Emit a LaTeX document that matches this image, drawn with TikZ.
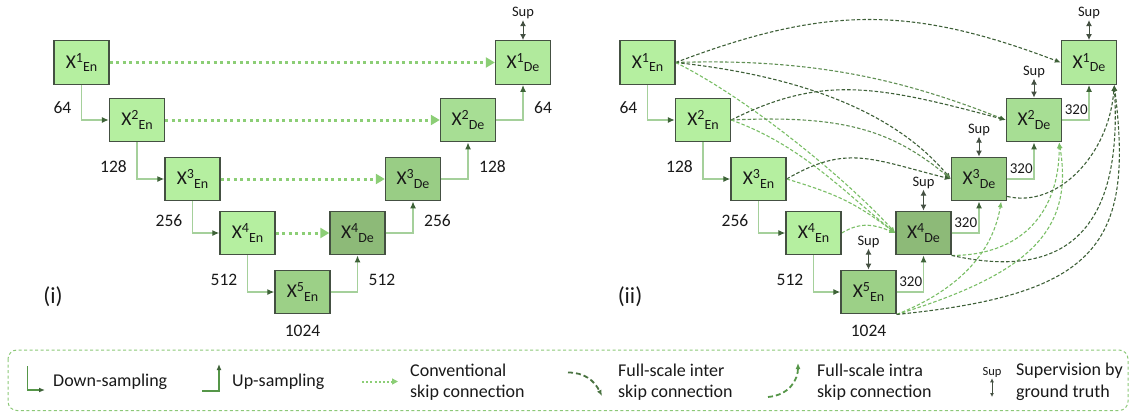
\documentclass[tikz,border=0pt]{standalone}
\usepackage{fontspec}
\setmainfont{Carlito}
\usetikzlibrary{arrows.meta,calc}
\pgfdeclarelayer{background}
\pgfsetlayers{background,main}

\definecolor{encF}{RGB}{181,239,160}
\definecolor{botF}{RGB}{156,208,135}
\definecolor{dfourF}{RGB}{141,186,120}
\definecolor{dthreeF}{RGB}{153,205,133}
\definecolor{dtwoF}{RGB}{167,222,148}
\definecolor{doneF}{RGB}{177,234,157}
\definecolor{bord}{RGB}{68,80,66}
\definecolor{txt}{RGB}{25,25,25}
\definecolor{sampL}{RGB}{165,208,155}
\definecolor{tipD}{RGB}{62,98,56}
\definecolor{dotG}{RGB}{140,206,118}
\definecolor{darkD}{RGB}{62,96,56}
\definecolor{midD}{RGB}{98,145,86}
\definecolor{lightD}{RGB}{122,190,102}
\definecolor{legG}{RGB}{140,200,120}
\definecolor{legLine}{RGB}{85,150,72}

% block caption: X with superscript level and subscript stage
\newcommand{\blockname}[2]{{\fontsize{19.5}{19}\selectfont X}{\fontsize{14}{14}\selectfont\raisebox{6pt}{#1}\raisebox{-3.5pt}{#2}}}

\tikzset{
  box/.style={draw=bord, line width=1.4pt, minimum width=55pt, minimum height=43.5pt, inner sep=0pt, text=txt},
  num/.style={text=txt, inner sep=0pt, font=\fontsize{17.5}{18}\selectfont},
  small/.style={text=txt, inner sep=0pt, font=\fontsize{15}{15}\selectfont},
  suplbl/.style={text=txt, inner sep=1pt, font=\fontsize{14.5}{14}\selectfont},
  panel/.style={text=txt, inner sep=0pt, font=\fontsize{23}{23}\selectfont},
  legt/.style={text=txt, inner sep=0pt, anchor=west, align=left, font=\fontsize{18}{21.5}\selectfont},
  samp/.style={draw=sampL, line width=1.2pt, -{Latex[length=7pt,width=6pt,color=tipD]}},
  supar/.style={draw=bord, line width=1pt, {Latex[length=6pt,width=6pt]}-{Latex[length=6pt,width=6pt]}},
  conv/.style={draw=dotG, line width=3pt, dash pattern=on 3pt off 3.5pt, -{Triangle[length=9pt,width=10pt,color=dotG]}},
  dk/.style={draw=darkD, line width=1.1pt, dash pattern=on 3.5pt off 2pt, -{Latex[length=6pt,width=5pt]}},
  md/.style={dk, draw=midD},
  lt/.style={dk, draw=lightD},
  legbox/.style={draw=legG, line width=1pt, dash pattern=on 3pt off 2.5pt, rounded corners=9pt},
  legsamp/.style={draw=legLine, line width=1.3pt, -{Latex[length=6pt,width=5pt,color=tipD]}},
  convL/.style={draw=dotG, line width=2pt, dash pattern=on 2pt off 2.2pt, -{Triangle[length=6pt,width=6pt,color=dotG]}},
  legdash/.style={draw=darkD!80!lightD, line width=1.8pt, dash pattern=on 5pt off 3pt, -{Latex[length=6pt,width=5pt]}},
  legdashb/.style={legdash, draw=legLine},
}

\begin{document}
\begin{tikzpicture}[x=1pt,y=-1pt]
\useasboundingbox (0,0) rectangle (1136,412);

% ---------------- (i) U-Net ----------------
\node[box, fill=encF]   (Ea1) at (81.5,62.5) {\blockname{1}{En}};
\node[box, fill=encF]   (Ea2) at (137,120)   {\blockname{2}{En}};
\node[box, fill=encF]   (Ea3) at (192.5,179) {\blockname{3}{En}};
\node[box, fill=encF]   (Ea4) at (247.5,233) {\blockname{4}{En}};
\node[box, fill=botF]   (Ea5) at (302.5,292) {\blockname{5}{En}};
\node[box, fill=dfourF] (Da4) at (357.5,233) {\blockname{4}{De}};
\node[box, fill=dthreeF](Da3) at (413,179)   {\blockname{3}{De}};
\node[box, fill=dtwoF]  (Da2) at (468,120)   {\blockname{2}{De}};
\node[box, fill=doneF]  (Da1) at (523,62.5)  {\blockname{1}{De}};

\draw[samp] (Ea1.south) |- (Ea2.west);
\draw[samp] (Ea2.south) |- (Ea3.west);
\draw[samp] (Ea3.south) |- (Ea4.west);
\draw[samp] (Ea4.south) |- (Ea5.west);
\draw[samp] (Ea5.east) -| (Da4.south);
\draw[samp] (Da4.east) -| (Da3.south);
\draw[samp] (Da3.east) -| (Da2.south);
\draw[samp] (Da2.east) -| (Da1.south);

\node[num, anchor=east] (la64)  at ($(Ea1.south |- Ea2.west)+(-10,-12)$) {64};
\node[num, anchor=east] (la128) at ($(Ea2.south |- Ea3.west)+(-10,-12)$) {128};
\node[num, anchor=east] (la256) at ($(Ea3.south |- Ea4.west)+(-10,-12)$) {256};
\node[num, anchor=east] (la512) at ($(Ea4.south |- Ea5.west)+(-10,-12)$) {512};
\node[num] (la1024) at ($(Ea5.south)+(0,16)$) {1024};
\node[num, anchor=west] (ra512) at ($(Ea5.east -| Da4.south)+(11,-12)$) {512};
\node[num, anchor=west] (ra256) at ($(Da4.east -| Da3.south)+(11,-12)$) {256};
\node[num, anchor=west] (ra128) at ($(Da3.east -| Da2.south)+(11,-12)$) {128};
\node[num, anchor=west] (ra64)  at ($(Da2.east -| Da1.south)+(11,-12)$) {64};

\draw[conv] (Ea1.east) -- (Da1.west);
\draw[conv] (Ea2.east) -- (Da2.west);
\draw[conv] (Ea3.east) -- (Da3.west);
\draw[conv] (Ea4.east) -- (Da4.west);

\node[suplbl] (sa1) at ($(Da1.north)+(0,-27)$) {Sup};
\draw[supar] (sa1) -- (Da1);

\node[panel] (pi) at (53,297) {(i)};

% ---------------- (ii) UNet 3+ ----------------
\node[box, fill=encF]   (Eb1) at (647.5,62.5) {\blockname{1}{En}};
\node[box, fill=encF]   (Eb2) at (703,120)    {\blockname{2}{En}};
\node[box, fill=encF]   (Eb3) at (758.5,179)  {\blockname{3}{En}};
\node[box, fill=encF]   (Eb4) at (813.5,233)  {\blockname{4}{En}};
\node[box, fill=botF]   (Eb5) at (868.5,292)  {\blockname{5}{En}};
\node[box, fill=dfourF] (Db4) at (923.5,233)  {\blockname{4}{De}};
\node[box, fill=dthreeF](Db3) at (979,179)    {\blockname{3}{De}};
\node[box, fill=dtwoF]  (Db2) at (1034,120)   {\blockname{2}{De}};
\node[box, fill=doneF]  (Db1) at (1089,62.5)  {\blockname{1}{De}};

\coordinate (Db3in)  at ($(Db3.south east)+(-6,0)$);
\coordinate (Db2in)  at ($(Db2.south east)+(-3,0)$);
\coordinate (Db1in)  at ($(Db1.south east)+(-3,0)$);
\coordinate (Db3out) at ($(Db3.south east)+(0,-5)$);

\begin{pgfonlayer}{background}
% full-scale inter skip connections
\draw[dk] (Eb1.east) .. controls +(150,-57) and +(-150,-57) .. (Db1.west);
\draw[md] (Eb1.east) .. controls +(150,-5) and +(-90,-35) .. (Db2.west);
\draw[dk] (Eb1.east) .. controls +(140,15) and +(-50,-60) .. (Db3.west);
\draw[lt] (Eb1.east) .. controls +(80,40) and +(-40,-45) .. (Db4.west);
\draw[dk] (Eb2.east) .. controls +(90,-45) and +(-130,-35) .. (Db2.west);
\draw[md] (Eb2.east) .. controls +(110,-5) and +(-60,-50) .. (Db3.west);
\draw[lt] (Eb2.east) .. controls +(70,25) and +(-50,-40) .. (Db4.west);
\draw[dk] (Eb3.east) .. controls +(60,-35) and +(-80,-20) .. (Db3.west);
\draw[lt] (Eb3.east) .. controls +(50,15) and +(-40,-30) .. (Db4.west);
\draw[lt] (Eb4.east) .. controls +(20,-12) and +(-20,-8) .. (Db4.west);
% full-scale intra skip connections
\draw[lt] (Eb5.south east) .. controls +(50,-20) and +(-10,60) .. (Db3in);
\draw[lt] (Eb5.south east) .. controls +(130,-40) and +(15,90) .. (Db2in);
\draw[dk] (Eb5.south east) .. controls +(200,-20) and +(20,160) .. (Db1in);
\draw[lt] (Db4.south east) .. controls +(70,0) and +(0,70) .. (Db2in);
\draw[dk] (Db4.south east) .. controls +(90,20) and +(10,170) .. (Db1in);
\draw[dk] (Db3out) .. controls +(50,12) and +(-5,70) .. (Db1in);
\end{pgfonlayer}

\draw[samp] (Eb1.south) |- (Eb2.west);
\draw[samp] (Eb2.south) |- (Eb3.west);
\draw[samp] (Eb3.south) |- (Eb4.west);
\draw[samp] (Eb4.south) |- (Eb5.west);
\draw[samp] (Eb5.east) -| (Db4.south);
\draw[samp] (Db4.east) -| (Db3.south);
\draw[samp] (Db3.east) -| (Db2.south);
\draw[samp] (Db2.east) -| (Db1.south);

\node[num, anchor=east] (lb64)  at ($(Eb1.south |- Eb2.west)+(-10,-12)$) {64};
\node[num, anchor=east] (lb128) at ($(Eb2.south |- Eb3.west)+(-10,-12)$) {128};
\node[num, anchor=east] (lb256) at ($(Eb3.south |- Eb4.west)+(-10,-12)$) {256};
\node[num, anchor=east] (lb512) at ($(Eb4.south |- Eb5.west)+(-10,-12)$) {512};
\node[num] (lb1024) at ($(Eb5.south)+(0,16)$) {1024};
\node[small] (cb5) at ($(Eb5.east)+(14,-10)$) {320};
\node[small] (cb4) at ($(Db4.east)+(14,-10)$) {320};
\node[small] (cb3) at ($(Db3.east)+(14,-10)$) {320};
\node[small] (cb2) at ($(Db2.east)+(14,-10)$) {320};

\node[suplbl] (sb5) at ($(Eb5.north)+(0,-28)$) {Sup};
\node[suplbl] (sb4) at ($(Db4.north)+(0,-28)$) {Sup};
\node[suplbl] (sb3) at ($(Db3.north)+(0,-27)$) {Sup};
\node[suplbl] (sb2) at ($(Db2.north)+(0,-26)$) {Sup};
\node[suplbl] (sb1) at ($(Db1.north)+(0,-27)$) {Sup};
\draw[supar] (sb5) -- (Eb5);
\draw[supar] (sb4) -- (Db4);
\draw[supar] (sb3) -- (Db3);
\draw[supar] (sb2) -- (Db2);
\draw[supar] (sb1) -- (Db1);

\node[panel] (pii) at (630,297) {(ii)};

% ---------------- legend ----------------
\draw[legbox] (8,350) rectangle (1128,410.5);

\coordinate (ldA) at (27.5,366);
\coordinate (ldB) at (45,390);
\draw[legsamp] (ldA) |- (ldB);
\node[legt] (tDown) at (53,381.5) {Down-sampling};

\coordinate (luA) at (202,391);
\coordinate (luB) at (219,364);
\draw[legsamp] (luA) -| (luB);
\node[legt] (tUp) at (232,381.5) {Up-sampling};

\coordinate (lcA) at (362,381.5);
\coordinate (lcB) at (398,381.5);
\draw[convL] (lcA) -- (lcB);
\node[legt] (tConv) at (410,382) {Conventional\\skip connection};

\coordinate (liA) at (568,372.5);
\coordinate (liB) at (602,396);
\draw[legdash] (liA) .. controls +(16,0) and +(-8,-16) .. (liB);
\node[legt] (tInter) at (618,382) {Full-scale inter\\skip connection};

\coordinate (lnA) at (768,397);
\coordinate (lnB) at (798,363);
\draw[legdashb] (lnA) .. controls +(22,-2) and +(0,16) .. (lnB);
\node[legt] (tIntra) at (817,382) {Full-scale intra\\skip connection};

\node[suplbl, font=\fontsize{12.5}{12.5}\selectfont] (lsup) at (992,372) {Sup};
\coordinate (lsB) at (992,397);
\draw[supar, line width=0.8pt, {Latex[length=4pt,width=4pt]}-{Latex[length=4pt,width=4pt]}] (lsup) -- (lsB);
\node[legt] (tSup) at (1016,382) {Supervision by\\ground truth};
\end{tikzpicture}
\end{document}
